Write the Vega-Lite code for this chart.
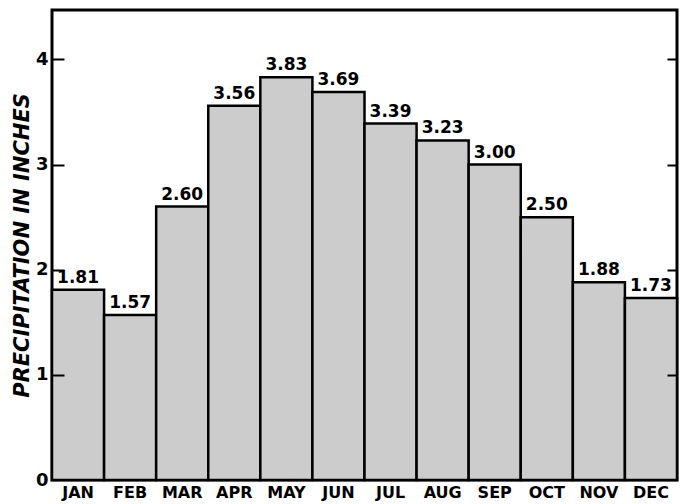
{
  "$schema": "https://vega.github.io/schema/vega-lite/v6.json",
  "autosize": "none",
  "padding": {"left": 52, "top": 10, "right": 7, "bottom": 24},
  "width": 625,
  "height": 470,
  "background": "white",
  "config": {
    "view": {"stroke": "black", "strokeWidth": 3},
    "font": "DejaVu Sans"
  },
  "data": {
    "values": [
      {"month": "JAN", "precip": 1.81},
      {"month": "FEB", "precip": 1.57},
      {"month": "MAR", "precip": 2.60},
      {"month": "APR", "precip": 3.56},
      {"month": "MAY", "precip": 3.83},
      {"month": "JUN", "precip": 3.69},
      {"month": "JUL", "precip": 3.39},
      {"month": "AUG", "precip": 3.23},
      {"month": "SEP", "precip": 3.00},
      {"month": "OCT", "precip": 2.50},
      {"month": "NOV", "precip": 1.88},
      {"month": "DEC", "precip": 1.73}
    ]
  },
  "encoding": {
    "x": {
      "field": "month", "type": "nominal", "sort": null,
      "scale": {"paddingInner": 0, "paddingOuter": 0},
      "axis": {
        "title": null, "labelAngle": 0, "ticks": false, "domain": false,
        "labelFont": "DejaVu Sans", "labelFontWeight": "bold", "labelFontSize": 16,
        "labelColor": "black", "labelPadding": 4
      }
    }
  },
  "layer": [
    {
      "mark": {"type": "bar", "fill": "#cccccc", "stroke": "black", "strokeWidth": 2.5},
      "encoding": {
        "y": {
          "field": "precip", "type": "quantitative",
          "scale": {"domain": [0, 4.47], "nice": false, "zero": true},
          "axis": {
            "orient": "left",
            "title": "PRECIPITATION IN INCHES",
            "titleFont": "DejaVu Sans", "titleFontWeight": "bold", "titleFontStyle": "italic",
            "titleFontSize": 21, "titleColor": "black", "titlePadding": 3,
            "values": [0, 1, 2, 3, 4], "format": "d", "ticks": false,
            "labelFont": "DejaVu Sans", "labelFontWeight": "bold", "labelFontSize": 18,
            "labelColor": "black", "labelPadding": 4,
            "domain": false, "grid": false
          }
        }
      }
    },
    {
      "mark": {"type": "text", "baseline": "bottom", "dy": -3, "fontSize": 17, "fontWeight": "bold", "font": "DejaVu Sans", "color": "black"},
      "encoding": {
        "y": {"field": "precip", "type": "quantitative", "axis": null},
        "text": {"field": "precip", "type": "quantitative", "format": ".2f"}
      }
    },
    {
      "mark": {"type": "rule", "opacity": 0},
      "encoding": {
        "y": {
          "field": "precip", "type": "quantitative",
          "axis": {
            "orient": "left", "offset": -12, "title": null, "labels": false, "domain": false, "grid": false,
            "values": [1, 2, 3, 4], "tickSize": 12, "tickWidth": 2, "tickColor": "black", "zindex": 2
          }
        }
      }
    },
    {
      "mark": {"type": "rule", "opacity": 0},
      "encoding": {
        "y": {
          "field": "precip", "type": "quantitative",
          "axis": {
            "orient": "right", "offset": -10, "title": null, "labels": false, "domain": false, "grid": false,
            "values": [1, 2, 3, 4], "tickSize": 10, "tickWidth": 2, "tickColor": "black", "zindex": 2
          }
        }
      }
    }
  ],
  "resolve": {"axis": {"y": "independent"}}
}
